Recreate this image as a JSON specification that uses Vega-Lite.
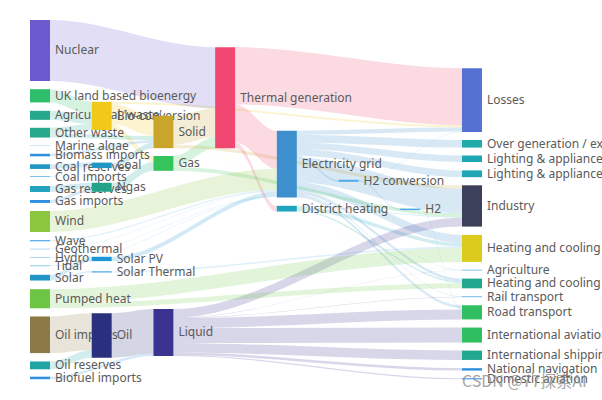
{
  "$schema": "https://vega.github.io/schema/vega-lite/v6.json",
  "width": 602,
  "height": 400,
  "padding": 0,
  "autosize": {"type": "none"},
  "background": "white",
  "config": {"view": {"stroke": null}},
  "datasets": {
    "nodes": [
      {"name": "Nuclear", "c": 0, "c1": 0.324, "y0": 275.5, "y1": 1115.5, "ym": 695.5},
      {"name": "UK land based bioenergy", "c": 0, "c1": 0.324, "y0": 1228.7, "y1": 1410.7, "ym": 1319.7},
      {"name": "Agricultural 'waste'", "c": 0, "c1": 0.324, "y0": 1526.2, "y1": 1650.9, "ym": 1588.6},
      {"name": "Other waste", "c": 0, "c1": 0.324, "y0": 1760.3, "y1": 1894.7, "ym": 1827.5},
      {"name": "Marine algae", "c": 0, "c1": 0.324, "y0": 2004.1, "y1": 2008.5, "ym": 2006.3},
      {"name": "Biomass imports", "c": 0, "c1": 0.324, "y0": 2118.5, "y1": 2153.5, "ym": 2136.0},
      {"name": "Coal reserves", "c": 0, "c1": 0.324, "y0": 2263.1, "y1": 2327.1, "ym": 2295.1},
      {"name": "Coal imports", "c": 0, "c1": 0.324, "y0": 2427.0, "y1": 2438.6, "ym": 2432.8},
      {"name": "Gas reserves", "c": 0, "c1": 0.324, "y0": 2562.0, "y1": 2644.2, "ym": 2603.1},
      {"name": "Gas imports", "c": 0, "c1": 0.324, "y0": 2754.8, "y1": 2795.5, "ym": 2775.2},
      {"name": "Wind", "c": 0, "c1": 0.324, "y0": 2906.3, "y1": 3195.7, "ym": 3051.0},
      {"name": "Wave", "c": 0, "c1": 0.324, "y0": 3305.8, "y1": 3324.8, "ym": 3315.3},
      {"name": "Geothermal", "c": 0, "c1": 0.324, "y0": 3427.0, "y1": 3434.0, "ym": 3430.5},
      {"name": "Hydro", "c": 0, "c1": 0.324, "y0": 3544.1, "y1": 3551.1, "ym": 3547.6},
      {"name": "Tidal", "c": 0, "c1": 0.324, "y0": 3657.0, "y1": 3666.5, "ym": 3661.7},
      {"name": "Solar", "c": 0, "c1": 0.324, "y0": 3785.1, "y1": 3864.3, "ym": 3824.7},
      {"name": "Pumped heat", "c": 0, "c1": 0.324, "y0": 3983.5, "y1": 4247.2, "ym": 4115.4},
      {"name": "Oil imports", "c": 0, "c1": 0.324, "y0": 4359.5, "y1": 4863.8, "ym": 4611.6},
      {"name": "Oil reserves", "c": 0, "c1": 0.324, "y0": 4979.3, "y1": 5087.0, "ym": 5033.2},
      {"name": "Biofuel imports", "c": 0, "c1": 0.324, "y0": 5188.7, "y1": 5223.7, "ym": 5206.2},
      {"name": "Bio-conversion", "c": 1, "c1": 1.324, "y0": 1402.2, "y1": 1791.1, "ym": 1596.7},
      {"name": "Coal", "c": 1, "c1": 1.324, "y0": 2239.7, "y1": 2315.3, "ym": 2277.5},
      {"name": "Ngas", "c": 1, "c1": 1.324, "y0": 2517.9, "y1": 2640.9, "ym": 2579.4},
      {"name": "Solar PV", "c": 1, "c1": 1.324, "y0": 3537.2, "y1": 3597.1, "ym": 3567.2},
      {"name": "Solar Thermal", "c": 1, "c1": 1.324, "y0": 3735.5, "y1": 3754.8, "ym": 3745.1},
      {"name": "Oil", "c": 1, "c1": 1.324, "y0": 4315.4, "y1": 4927.4, "ym": 4621.4},
      {"name": "Solid", "c": 2, "c1": 2.324, "y0": 1593.7, "y1": 2041.2, "ym": 1817.4},
      {"name": "Gas", "c": 2, "c1": 2.324, "y0": 2148.8, "y1": 2352.9, "ym": 2250.9},
      {"name": "Liquid", "c": 2, "c1": 2.324, "y0": 4256.2, "y1": 4903.8, "ym": 4580.0},
      {"name": "Thermal generation", "c": 3, "c1": 3.324, "y0": 651.5, "y1": 2043.5, "ym": 1347.5},
      {"name": "Electricity grid", "c": 4, "c1": 4.324, "y0": 1800.3, "y1": 2718.9, "ym": 2259.6},
      {"name": "District heating", "c": 4, "c1": 4.324, "y0": 2834.7, "y1": 2914.0, "ym": 2874.4},
      {"name": "H2 conversion", "c": 5, "c1": 5.324, "y0": 2476.6, "y1": 2503.7, "ym": 2490.2},
      {"name": "H2", "c": 6, "c1": 6.324, "y0": 2873.3, "y1": 2894.2, "ym": 2883.8},
      {"name": "Losses", "c": 7, "c1": 7.324, "y0": 939.4, "y1": 1817.7, "ym": 1378.6},
      {"name": "Over generation / exports", "c": 7, "c1": 7.324, "y0": 1928.4, "y1": 2032.9, "ym": 1980.6},
      {"name": "Lighting & appliances - commercial", "c": 7, "c1": 7.324, "y0": 2141.9, "y1": 2231.9, "ym": 2186.9},
      {"name": "Lighting & appliances - homes", "c": 7, "c1": 7.324, "y0": 2347.1, "y1": 2440.6, "ym": 2393.8},
      {"name": "Industry", "c": 7, "c1": 7.324, "y0": 2552.3, "y1": 3121.2, "ym": 2836.8},
      {"name": "Heating and cooling - homes", "c": 7, "c1": 7.324, "y0": 3235.5, "y1": 3607.7, "ym": 3421.6},
      {"name": "Agriculture", "c": 7, "c1": 7.324, "y0": 3714.9, "y1": 3725.9, "ym": 3720.4},
      {"name": "Heating and cooling - commercial", "c": 7, "c1": 7.324, "y0": 3837.5, "y1": 3971.7, "ym": 3904.6},
      {"name": "Rail transport", "c": 7, "c1": 7.324, "y0": 4081.3, "y1": 4093.6, "ym": 4087.4},
      {"name": "Road transport", "c": 7, "c1": 7.324, "y0": 4205.2, "y1": 4399.7, "ym": 4302.5},
      {"name": "International aviation", "c": 7, "c1": 7.324, "y0": 4512.4, "y1": 4718.7, "ym": 4615.5},
      {"name": "International shipping", "c": 7, "c1": 7.324, "y0": 4829.2, "y1": 4957.9, "ym": 4893.5},
      {"name": "National navigation", "c": 7, "c1": 7.324, "y0": 5071.6, "y1": 5104.8, "ym": 5088.2},
      {"name": "Domestic aviation", "c": 7, "c1": 7.324, "y0": 5210.7, "y1": 5225.2, "ym": 5217.9}
    ],
    "links": [
      {"s": "Agricultural 'waste'", "t": "Bio-conversion", "v": 124.729, "x": [0.324, 0.334, 0.99, 1], "y0": [1526.2, 1526.2, 1584.2, 1584.2], "y1": [1650.9, 1650.9, 1708.9, 1708.9]},
      {"s": "Bio-conversion", "t": "Liquid", "v": 0.597, "x": [1.324, 1.334, 1.99, 2], "y0": [1790.5, 1790.5, 4256.2, 4256.2], "y1": [1791.1, 1791.1, 4256.8, 4256.8]},
      {"s": "Bio-conversion", "t": "Losses", "v": 26.862, "x": [1.324, 1.334, 6.99, 7], "y0": [1402.2, 1402.2, 1726.5, 1726.5], "y1": [1429.1, 1429.1, 1753.4, 1753.4]},
      {"s": "Bio-conversion", "t": "Solid", "v": 280.322, "x": [1.324, 1.334, 1.99, 2], "y0": [1429.1, 1429.1, 1593.7, 1593.7], "y1": [1709.4, 1709.4, 1874.0, 1874.0]},
      {"s": "Bio-conversion", "t": "Gas", "v": 81.144, "x": [1.324, 1.334, 1.99, 2], "y0": [1709.4, 1709.4, 2148.8, 2148.8], "y1": [1790.5, 1790.5, 2229.9, 2229.9]},
      {"s": "Biofuel imports", "t": "Liquid", "v": 35, "x": [0.324, 0.334, 1.99, 2], "y0": [5188.7, 5188.7, 4868.8, 4868.8], "y1": [5223.7, 5223.7, 4903.8, 4903.8]},
      {"s": "Biomass imports", "t": "Solid", "v": 35, "x": [0.324, 0.334, 1.99, 2], "y0": [2118.5, 2118.5, 1930.6, 1930.6], "y1": [2153.5, 2153.5, 1965.6, 1965.6]},
      {"s": "Coal imports", "t": "Coal", "v": 11.606, "x": [0.324, 0.334, 0.99, 1], "y0": [2427.0, 2427.0, 2303.7, 2303.7], "y1": [2438.6, 2438.6, 2315.3, 2315.3]},
      {"s": "Coal reserves", "t": "Coal", "v": 63.965, "x": [0.324, 0.334, 0.99, 1], "y0": [2263.1, 2263.1, 2239.7, 2239.7], "y1": [2327.1, 2327.1, 2303.7, 2303.7]},
      {"s": "Coal", "t": "Solid", "v": 75.571, "x": [1.324, 1.334, 1.99, 2], "y0": [2239.7, 2239.7, 1965.6, 1965.6], "y1": [2315.3, 2315.3, 2041.2, 2041.2]},
      {"s": "District heating", "t": "Industry", "v": 10.639, "x": [4.324, 4.334, 6.99, 7], "y0": [2834.7, 2834.7, 2989.5, 2989.5], "y1": [2845.3, 2845.3, 3000.2, 3000.2]},
      {"s": "District heating", "t": "Heating and cooling - commercial", "v": 22.505, "x": [4.324, 4.334, 6.99, 7], "y0": [2891.5, 2891.5, 3878.5, 3878.5], "y1": [2914.0, 2914.0, 3901.0, 3901.0]},
      {"s": "District heating", "t": "Heating and cooling - homes", "v": 46.184, "x": [4.324, 4.334, 6.99, 7], "y0": [2845.3, 2845.3, 3349.2, 3349.2], "y1": [2891.5, 2891.5, 3395.4, 3395.4]},
      {"s": "Electricity grid", "t": "Over generation / exports", "v": 104.453, "x": [4.324, 4.334, 6.99, 7], "y0": [1857.0, 1857.0, 1928.4, 1928.4], "y1": [1961.4, 1961.4, 2032.9, 2032.9]},
      {"s": "Electricity grid", "t": "Heating and cooling - homes", "v": 113.726, "x": [4.324, 4.334, 6.99, 7], "y0": [2514.2, 2514.2, 3235.5, 3235.5], "y1": [2628.0, 2628.0, 3349.2, 3349.2]},
      {"s": "Electricity grid", "t": "H2 conversion", "v": 27.14, "x": [4.324, 4.334, 4.99, 5], "y0": [2144.9, 2144.9, 2476.6, 2476.6], "y1": [2172.1, 2172.1, 2503.7, 2503.7]},
      {"s": "Electricity grid", "t": "Industry", "v": 342.165, "x": [4.324, 4.334, 6.99, 7], "y0": [2172.1, 2172.1, 2598.8, 2598.8], "y1": [2514.2, 2514.2, 2940.9, 2940.9]},
      {"s": "Electricity grid", "t": "Road transport", "v": 37.797, "x": [4.324, 4.334, 6.99, 7], "y0": [2681.1, 2681.1, 4205.2, 4205.2], "y1": [2718.9, 2718.9, 4243.0, 4243.0]},
      {"s": "Electricity grid", "t": "Agriculture", "v": 4.412, "x": [4.324, 4.334, 6.99, 7], "y0": [2628.0, 2628.0, 3715.8, 3715.8], "y1": [2632.4, 2632.4, 3720.2, 3720.2]},
      {"s": "Electricity grid", "t": "Heating and cooling - commercial", "v": 40.858, "x": [4.324, 4.334, 6.99, 7], "y0": [2632.4, 2632.4, 3837.5, 3837.5], "y1": [2673.2, 2673.2, 3878.4, 3878.4]},
      {"s": "Electricity grid", "t": "Losses", "v": 56.691, "x": [4.324, 4.334, 6.99, 7], "y0": [1800.3, 1800.3, 1753.4, 1753.4], "y1": [1857.0, 1857.0, 1810.1, 1810.1]},
      {"s": "Electricity grid", "t": "Rail transport", "v": 7.863, "x": [4.324, 4.334, 6.99, 7], "y0": [2673.2, 2673.2, 4081.3, 4081.3], "y1": [2681.1, 2681.1, 4089.2, 4089.2]},
      {"s": "Electricity grid", "t": "Lighting & appliances - commercial", "v": 90.008, "x": [4.324, 4.334, 6.99, 7], "y0": [1961.4, 1961.4, 2141.9, 2141.9], "y1": [2051.5, 2051.5, 2231.9, 2231.9]},
      {"s": "Electricity grid", "t": "Lighting & appliances - homes", "v": 93.494, "x": [4.324, 4.334, 6.99, 7], "y0": [2051.5, 2051.5, 2347.1, 2347.1], "y1": [2144.9, 2144.9, 2440.6, 2440.6]},
      {"s": "Gas imports", "t": "Ngas", "v": 40.719, "x": [0.324, 0.334, 0.99, 1], "y0": [2754.8, 2754.8, 2600.1, 2600.1], "y1": [2795.5, 2795.5, 2640.9, 2640.9]},
      {"s": "Gas reserves", "t": "Ngas", "v": 82.233, "x": [0.324, 0.334, 0.99, 1], "y0": [2562.0, 2562.0, 2517.9, 2517.9], "y1": [2644.2, 2644.2, 2600.1, 2600.1]},
      {"s": "Gas", "t": "Heating and cooling - commercial", "v": 0.129, "x": [2.324, 2.334, 6.99, 7], "y0": [2352.8, 2352.8, 3878.4, 3878.4], "y1": [2352.9, 2352.9, 3878.5, 3878.5]},
      {"s": "Gas", "t": "Losses", "v": 1.401, "x": [2.324, 2.334, 6.99, 7], "y0": [2300.7, 2300.7, 1810.1, 1810.1], "y1": [2302.1, 2302.1, 1811.5, 1811.5]},
      {"s": "Gas", "t": "Thermal generation", "v": 151.891, "x": [2.324, 2.334, 2.99, 3], "y0": [2148.8, 2148.8, 1891.6, 1891.6], "y1": [2300.7, 2300.7, 2043.5, 2043.5]},
      {"s": "Gas", "t": "Agriculture", "v": 2.096, "x": [2.324, 2.334, 6.99, 7], "y0": [2350.7, 2350.7, 3720.2, 3720.2], "y1": [2352.8, 2352.8, 3722.3, 3722.3]},
      {"s": "Gas", "t": "Industry", "v": 48.58, "x": [2.324, 2.334, 6.99, 7], "y0": [2302.1, 2302.1, 2940.9, 2940.9], "y1": [2350.7, 2350.7, 2989.5, 2989.5]},
      {"s": "Geothermal", "t": "Electricity grid", "v": 7.013, "x": [0.324, 0.334, 3.99, 4], "y0": [3427.0, 3427.0, 2634.2, 2634.2], "y1": [3434.0, 3434.0, 2641.2, 2641.2]},
      {"s": "H2 conversion", "t": "H2", "v": 20.897, "x": [5.324, 5.334, 5.99, 6], "y0": [2482.8, 2482.8, 2873.3, 2873.3], "y1": [2503.7, 2503.7, 2894.2, 2894.2]},
      {"s": "H2 conversion", "t": "Losses", "v": 6.242, "x": [5.324, 5.334, 6.99, 7], "y0": [2476.6, 2476.6, 1811.5, 1811.5], "y1": [2482.8, 2482.8, 1817.7, 1817.7]},
      {"s": "H2", "t": "Road transport", "v": 20.897, "x": [6.324, 6.334, 6.99, 7], "y0": [2873.3, 2873.3, 4243.0, 4243.0], "y1": [2894.2, 2894.2, 4263.9, 4263.9]},
      {"s": "Hydro", "t": "Electricity grid", "v": 6.995, "x": [0.324, 0.334, 3.99, 4], "y0": [3544.1, 3544.1, 2701.1, 2701.1], "y1": [3551.1, 3551.1, 2708.1, 2708.1]},
      {"s": "Liquid", "t": "Industry", "v": 121.066, "x": [2.324, 2.334, 6.99, 7], "y0": [4256.2, 4256.2, 3000.2, 3000.2], "y1": [4377.3, 4377.3, 3121.2, 3121.2]},
      {"s": "Liquid", "t": "International shipping", "v": 128.69, "x": [2.324, 2.334, 6.99, 7], "y0": [4727.4, 4727.4, 4829.2, 4829.2], "y1": [4856.1, 4856.1, 4957.9, 4957.9]},
      {"s": "Liquid", "t": "Road transport", "v": 135.835, "x": [2.324, 2.334, 6.99, 7], "y0": [4385.3, 4385.3, 4263.9, 4263.9], "y1": [4521.2, 4521.2, 4399.7, 4399.7]},
      {"s": "Liquid", "t": "Domestic aviation", "v": 14.458, "x": [2.324, 2.334, 6.99, 7], "y0": [4889.3, 4889.3, 5210.7, 5210.7], "y1": [4903.8, 4903.8, 5225.2, 5225.2]},
      {"s": "Liquid", "t": "International aviation", "v": 206.267, "x": [2.324, 2.334, 6.99, 7], "y0": [4521.2, 4521.2, 4512.4, 4512.4], "y1": [4727.4, 4727.4, 4718.7, 4718.7]},
      {"s": "Liquid", "t": "Agriculture", "v": 3.64, "x": [2.324, 2.334, 6.99, 7], "y0": [4377.3, 4377.3, 3722.3, 3722.3], "y1": [4380.9, 4380.9, 3725.9, 3725.9]},
      {"s": "Liquid", "t": "National navigation", "v": 33.218, "x": [2.324, 2.334, 6.99, 7], "y0": [4856.1, 4856.1, 5071.6, 5071.6], "y1": [4889.3, 4889.3, 5104.8, 5104.8]},
      {"s": "Liquid", "t": "Rail transport", "v": 4.413, "x": [2.324, 2.334, 6.99, 7], "y0": [4380.9, 4380.9, 4089.2, 4089.2], "y1": [4385.3, 4385.3, 4093.6, 4093.6]},
      {"s": "Marine algae", "t": "Bio-conversion", "v": 4.375, "x": [0.324, 0.334, 0.99, 1], "y0": [2004.1, 2004.1, 1786.8, 1786.8], "y1": [2008.5, 2008.5, 1791.1, 1791.1]},
      {"s": "Ngas", "t": "Gas", "v": 122.952, "x": [1.324, 1.334, 1.99, 2], "y0": [2517.9, 2517.9, 2229.9, 2229.9], "y1": [2640.9, 2640.9, 2352.9, 2352.9]},
      {"s": "Nuclear", "t": "Thermal generation", "v": 839.978, "x": [0.324, 0.334, 2.99, 3], "y0": [275.5, 275.5, 651.5, 651.5], "y1": [1115.5, 1115.5, 1491.5, 1491.5]},
      {"s": "Oil imports", "t": "Oil", "v": 504.287, "x": [0.324, 0.334, 0.99, 1], "y0": [4359.5, 4359.5, 4315.4, 4315.4], "y1": [4863.8, 4863.8, 4819.7, 4819.7]},
      {"s": "Oil reserves", "t": "Oil", "v": 107.703, "x": [0.324, 0.334, 0.99, 1], "y0": [4979.3, 4979.3, 4819.7, 4819.7], "y1": [5087.0, 5087.0, 4927.4, 4927.4]},
      {"s": "Oil", "t": "Liquid", "v": 611.99, "x": [1.324, 1.334, 1.99, 2], "y0": [4315.4, 4315.4, 4256.8, 4256.8], "y1": [4927.4, 4927.4, 4868.8, 4868.8]},
      {"s": "Other waste", "t": "Solid", "v": 56.587, "x": [0.324, 0.334, 1.99, 2], "y0": [1838.1, 1838.1, 1874.0, 1874.0], "y1": [1894.7, 1894.7, 1930.6, 1930.6]},
      {"s": "Other waste", "t": "Bio-conversion", "v": 77.81, "x": [0.324, 0.334, 0.99, 1], "y0": [1760.3, 1760.3, 1708.9, 1708.9], "y1": [1838.1, 1838.1, 1786.8, 1786.8]},
      {"s": "Pumped heat", "t": "Heating and cooling - homes", "v": 193.026, "x": [0.324, 0.334, 6.99, 7], "y0": [3983.5, 3983.5, 3414.7, 3414.7], "y1": [4176.5, 4176.5, 3607.7, 3607.7]},
      {"s": "Pumped heat", "t": "Heating and cooling - commercial", "v": 70.672, "x": [0.324, 0.334, 6.99, 7], "y0": [4176.5, 4176.5, 3901.0, 3901.0], "y1": [4247.2, 4247.2, 3971.7, 3971.7]},
      {"s": "Solar PV", "t": "Electricity grid", "v": 59.901, "x": [1.324, 1.334, 3.99, 4], "y0": [3537.2, 3537.2, 2641.2, 2641.2], "y1": [3597.1, 3597.1, 2701.1, 2701.1]},
      {"s": "Solar Thermal", "t": "Heating and cooling - homes", "v": 19.263, "x": [1.324, 1.334, 6.99, 7], "y0": [3735.5, 3735.5, 3395.4, 3395.4], "y1": [3754.8, 3754.8, 3414.7, 3414.7]},
      {"s": "Solar", "t": "Solar Thermal", "v": 19.263, "x": [0.324, 0.334, 0.99, 1], "y0": [3845.0, 3845.0, 3735.5, 3735.5], "y1": [3864.3, 3864.3, 3754.8, 3754.8]},
      {"s": "Solar", "t": "Solar PV", "v": 59.901, "x": [0.324, 0.334, 0.99, 1], "y0": [3785.1, 3785.1, 3537.2, 3537.2], "y1": [3845.0, 3845.0, 3597.1, 3597.1]},
      {"s": "Solid", "t": "Agriculture", "v": 0.882, "x": [2.324, 2.334, 6.99, 7], "y0": [2040.3, 2040.3, 3714.9, 3714.9], "y1": [2041.2, 2041.2, 3715.8, 3715.8]},
      {"s": "Solid", "t": "Thermal generation", "v": 400.12, "x": [2.324, 2.334, 2.99, 3], "y0": [1593.7, 1593.7, 1491.5, 1491.5], "y1": [1993.8, 1993.8, 1891.6, 1891.6]},
      {"s": "Solid", "t": "Industry", "v": 46.477, "x": [2.324, 2.334, 6.99, 7], "y0": [1993.8, 1993.8, 2552.3, 2552.3], "y1": [2040.3, 2040.3, 2598.8, 2598.8]},
      {"s": "Thermal generation", "t": "Electricity grid", "v": 525.531, "x": [3.324, 3.334, 3.99, 4], "y0": [1438.6, 1438.6, 1800.3, 1800.3], "y1": [1964.2, 1964.2, 2325.8, 2325.8]},
      {"s": "Thermal generation", "t": "Losses", "v": 787.129, "x": [3.324, 3.334, 6.99, 7], "y0": [651.5, 651.5, 939.4, 939.4], "y1": [1438.6, 1438.6, 1726.5, 1726.5]},
      {"s": "Thermal generation", "t": "District heating", "v": 79.329, "x": [3.324, 3.334, 3.99, 4], "y0": [1964.2, 1964.2, 2834.7, 2834.7], "y1": [2043.5, 2043.5, 2914.0, 2914.0]},
      {"s": "Tidal", "t": "Electricity grid", "v": 9.452, "x": [0.324, 0.334, 3.99, 4], "y0": [3657.0, 3657.0, 2708.1, 2708.1], "y1": [3666.5, 3666.5, 2717.6, 2717.6]},
      {"s": "UK land based bioenergy", "t": "Bio-conversion", "v": 182.01, "x": [0.324, 0.334, 0.99, 1], "y0": [1228.7, 1228.7, 1402.2, 1402.2], "y1": [1410.7, 1410.7, 1584.2, 1584.2]},
      {"s": "Wave", "t": "Electricity grid", "v": 19.013, "x": [0.324, 0.334, 3.99, 4], "y0": [3305.8, 3305.8, 2615.2, 2615.2], "y1": [3324.8, 3324.8, 2634.2, 2634.2]},
      {"s": "Wind", "t": "Electricity grid", "v": 289.366, "x": [0.324, 0.334, 3.99, 4], "y0": [2906.3, 2906.3, 2325.8, 2325.8], "y1": [3195.7, 3195.7, 2615.2, 2615.2]}
    ]
  },
  "layer": [
    {
      "data": {"name": "links"},
      "transform": [{"flatten": ["x", "y0", "y1"]}],
      "mark": {"type": "area", "interpolate": "monotone", "opacity": 0.2},
      "encoding": {
        "x": {"field": "x", "type": "quantitative", "scale": {"domain": [-0.4861, 9.2689], "nice": false, "zero": false}, "axis": null},
        "y": {"field": "y0", "type": "quantitative", "stack": null, "scale": {"domain": [0, 5510], "reverse": true, "nice": false, "zero": false}, "axis": null},
        "y2": {"field": "y1"},
        "color": {"field": "s", "type": "nominal", "legend": null, "scale": {
          "domain": ["Nuclear", "UK land based bioenergy", "Agricultural 'waste'", "Other waste", "Marine algae", "Biomass imports", "Coal reserves", "Coal imports", "Gas reserves", "Gas imports", "Wind", "Wave", "Geothermal", "Hydro", "Tidal", "Solar", "Pumped heat", "Oil imports", "Oil reserves", "Biofuel imports", "Bio-conversion", "Coal", "Ngas", "Solar PV", "Solar Thermal", "Oil", "Solid", "Gas", "Liquid", "Thermal generation", "Electricity grid", "District heating", "H2 conversion", "H2", "Losses", "Over generation / exports", "Lighting & appliances - commercial", "Lighting & appliances - homes", "Industry", "Heating and cooling - homes", "Agriculture", "Heating and cooling - commercial", "Rail transport", "Road transport", "International aviation", "International shipping", "National navigation", "Domestic aviation"],
          "range": ["#6a5acd", "#2ebd6b", "#26a98b", "#26a98b", "#5fb3e8", "#2f8fe0", "#2196c4", "#5fb3e8", "#22a2bf", "#2f8fe0", "#8cc63f", "#5fb3e8", "#5fb3e8", "#5fb3e8", "#5fb3e8", "#2196c4", "#6cc644", "#8b7a45", "#20a4a4", "#2f8fe0", "#f0c91a", "#2196c4", "#22a48c", "#1f96d4", "#5fb3e8", "#2a2f7e", "#c9a62b", "#35c35c", "#3b3390", "#ef476f", "#3d8fcd", "#1fa6bf", "#4fa8e6", "#4fa8e6", "#5572d3", "#20aaa8", "#1fa6b4", "#1fa6b4", "#3d405b", "#dccb1c", "#5fb3e8", "#22a88e", "#5fb3e8", "#2fbf60", "#2fbf60", "#22a88e", "#2f8fe0", "#2f8fe0"]
        }},
        "detail": {"field": "t", "type": "nominal"}
      }
    },
    {
      "data": {"name": "nodes"},
      "mark": {"type": "text", "align": "left", "baseline": "middle", "dx": 25, "fontSize": 12, "font": "Noto Sans", "color": "#5a5a5a"},
      "encoding": {
        "x": {"field": "c", "type": "quantitative"},
        "y": {"field": "ym", "type": "quantitative"},
        "text": {"field": "name", "type": "nominal"}
      }
    },
    {
      "data": {"name": "nodes"},
      "mark": {"type": "rect"},
      "encoding": {
        "x": {"field": "c", "type": "quantitative"},
        "x2": {"field": "c1"},
        "y": {"field": "y0", "type": "quantitative"},
        "y2": {"field": "y1"},
        "color": {"field": "name", "type": "nominal", "legend": null}
      }
    },
    {
      "data": {"values": [{}]},
      "mark": {"type": "text", "align": "left", "baseline": "middle", "fontSize": 16, "font": "Noto Sans CJK SC", "color": "#888888", "opacity": 0.75},
      "encoding": {
        "x": {"datum": 7.0, "type": "quantitative"},
        "y": {"datum": 5262, "type": "quantitative"},
        "text": {"value": "CSDN @77探索AI"}
      }
    }
  ]
}
